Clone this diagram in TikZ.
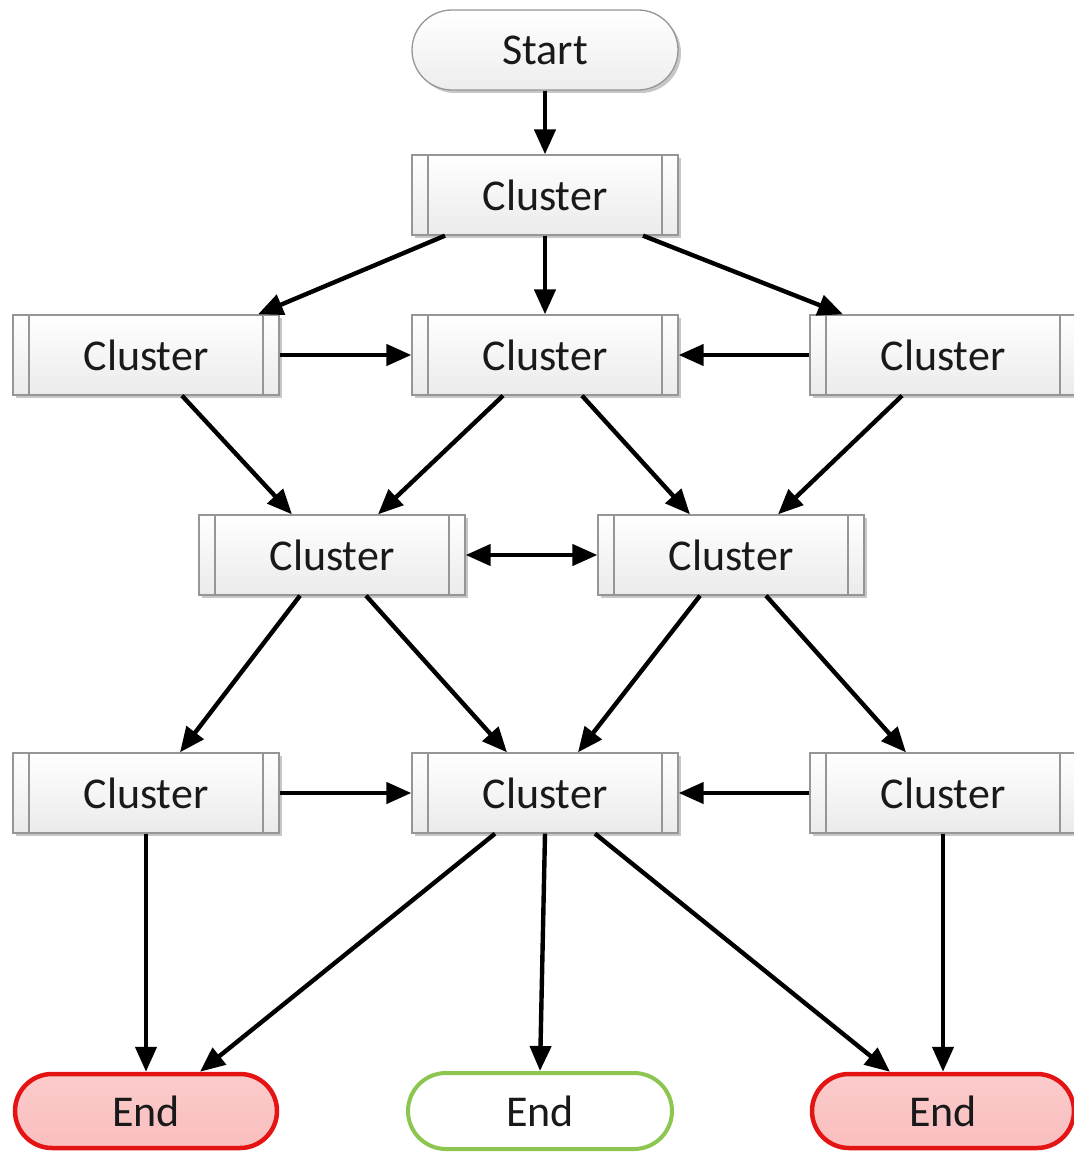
\documentclass[tikz,border=0pt]{standalone}
\usepackage{fontspec}
\setmainfont{Carlito}
\usetikzlibrary{shapes.misc,shadows,arrows.meta}
\definecolor{endred}{RGB}{228,20,20}
\definecolor{endpink}{RGB}{250,190,190}
\definecolor{endgreen}{RGB}{140,198,80}
\definecolor{boxgray}{RGB}{150,150,150}
\tikzset{
  txt/.style={font=\fontsize{44}{52}\selectfont, text=black!90},
  clusterbox/.style={txt, rectangle, draw=boxgray, line width=1.3pt,
    top color=white, bottom color=gray!16,
    minimum width=266pt, minimum height=80pt, inner sep=0pt,
    drop shadow={shadow xshift=3pt, shadow yshift=-3pt, fill=gray!55, opacity=0.8},
    path picture={
      \draw[boxgray,line width=1.3pt]
        ([xshift=16pt]path picture bounding box.north west) -- ([xshift=16pt]path picture bounding box.south west)
        ([xshift=-16pt]path picture bounding box.north east) -- ([xshift=-16pt]path picture bounding box.south east);
    }},
  startbox/.style={txt, rounded rectangle, draw=boxgray, line width=1.3pt,
    top color=white, bottom color=gray!14,
    minimum width=266pt, minimum height=80pt, inner sep=0pt,
    drop shadow={shadow xshift=3pt, shadow yshift=-3pt, fill=gray!55, opacity=0.8}},
  redend/.style={txt, rounded rectangle, draw=endred, line width=4.5pt,
    top color=endpink!80, bottom color=endpink,
    minimum width=262pt, minimum height=74pt, inner sep=0pt},
  greenend/.style={txt, rounded rectangle, draw=endgreen, line width=4pt,
    fill=white, minimum width=264pt, minimum height=76pt, inner sep=0pt},
  arr/.style={line width=4.4pt, -{Triangle[length=25pt,width=21pt]}},
  darr/.style={line width=4.4pt, {Triangle[length=25pt,width=21pt]}-{Triangle[length=25pt,width=21pt]}}
}
\begin{document}
\begin{tikzpicture}[x=1pt,y=-1pt]
\useasboundingbox (0,0) rectangle (1073,1153);
\node[startbox] (st) at (545,50) {Start};
\node[clusterbox] (c1) at (545,195) {Cluster};
\node[clusterbox] (c2l) at (146,355) {Cluster};
\node[clusterbox] (c2m) at (545,355) {Cluster};
\node[clusterbox] (c2r) at (943,355) {Cluster};
\node[clusterbox] (c3l) at (332,555) {Cluster};
\node[clusterbox] (c3r) at (731,555) {Cluster};
\node[clusterbox] (c4l) at (146,793) {Cluster};
\node[clusterbox] (c4m) at (545,793) {Cluster};
\node[clusterbox] (c4r) at (943,793) {Cluster};
\node[redend] (e1) at (146,1111) {End};
\node[greenend] (e2) at (540,1111) {End};
\node[redend] (e3) at (943,1111) {End};

\draw[arr] (st.south) -- (c1.north);
\draw[arr] ([xshift=-100pt]c1.south) -- ([xshift=112pt]c2l.north);
\draw[arr] (c1.south) -- (c2m.north);
\draw[arr] ([xshift=98pt]c1.south) -- ([xshift=-100pt]c2r.north);
\draw[arr] (c2l.east) -- (c2m.west);
\draw[arr] (c2r.west) -- (c2m.east);
\draw[arr] ([xshift=36pt]c2l.south) -- ([xshift=-40pt]c3l.north);
\draw[arr] ([xshift=-42pt]c2m.south) -- ([xshift=46pt]c3l.north);
\draw[arr] ([xshift=37pt]c2m.south) -- ([xshift=-41pt]c3r.north);
\draw[arr] ([xshift=-41pt]c2r.south) -- ([xshift=47pt]c3r.north);
\draw[darr] (c3l.east) -- (c3r.west);
\draw[arr] ([xshift=-32pt]c3l.south) -- ([xshift=34pt]c4l.north);
\draw[arr] ([xshift=34pt]c3l.south) -- ([xshift=-38pt]c4m.north);
\draw[arr] ([xshift=-31pt]c3r.south) -- ([xshift=33pt]c4m.north);
\draw[arr] ([xshift=35pt]c3r.south) -- ([xshift=-37pt]c4r.north);
\draw[arr] (c4l.east) -- (c4m.west);
\draw[arr] (c4r.west) -- (c4m.east);
\draw[arr] (c4l.south) -- (e1.north);
\draw[arr] ([xshift=-50pt]c4m.south) -- ([xshift=54pt]e1.north);
\draw[arr] (c4m.south) -- (e2.north);
\draw[arr] ([xshift=50pt]c4m.south) -- ([xshift=-53pt]e3.north);
\draw[arr] (c4r.south) -- (e3.north);
\end{tikzpicture}
\end{document}
